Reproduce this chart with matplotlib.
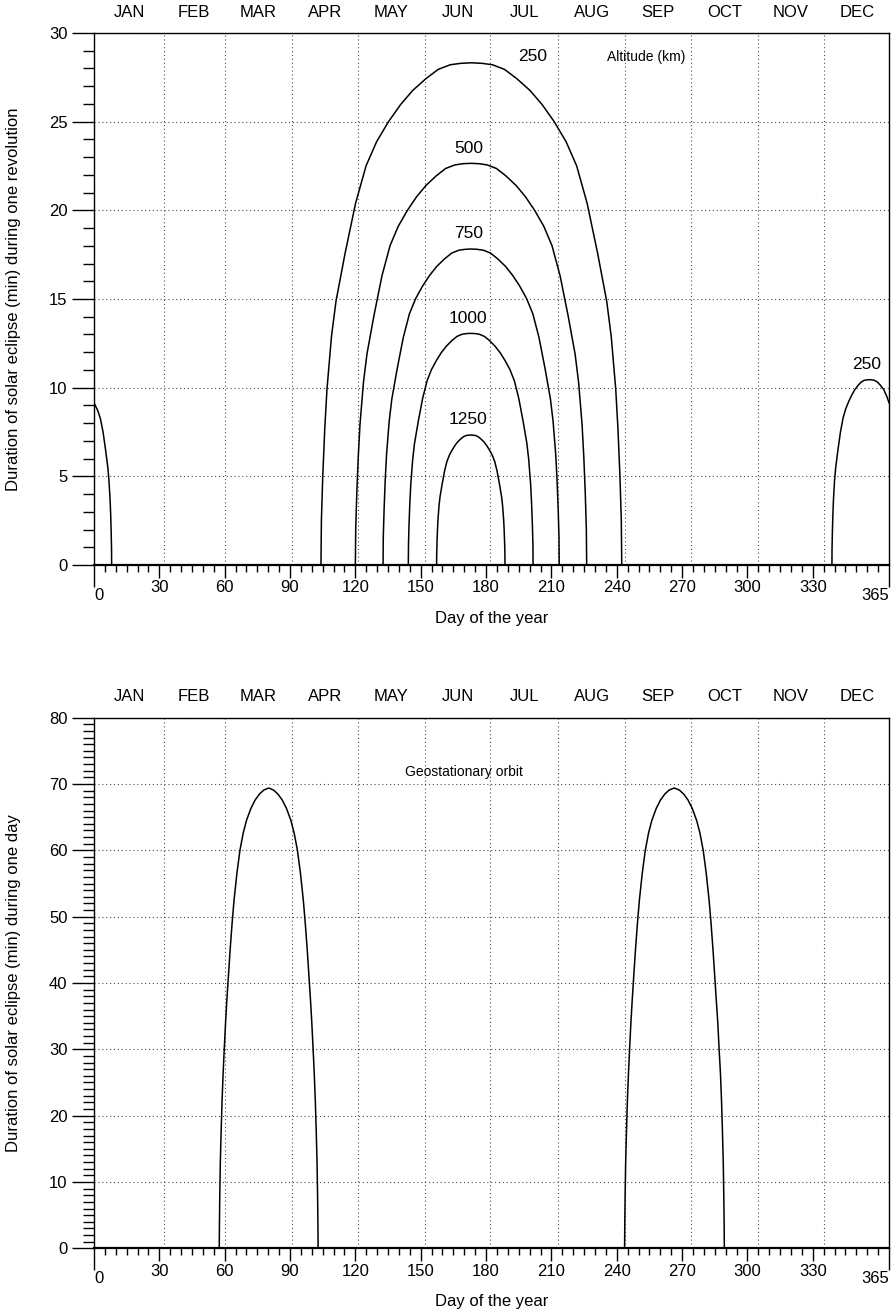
import matplotlib
matplotlib.use("Agg")
from matplotlib import pyplot as plt
from matplotlib.ticker import FixedLocator, MultipleLocator

plt.rcParams["font.family"] = ["Liberation Sans", "DejaVu Sans"]
plt.rcParams["font.size"] = 12

# --- data ------------------------------------------------------------------
month_names = ["JAN", "FEB", "MAR", "APR", "MAY", "JUN",
               "JUL", "AUG", "SEP", "OCT", "NOV", "DEC"]
month_mid = [16.5, 46, 75.5, 106, 136.5, 167, 197.5, 228.5, 259, 289.5, 320, 350.5]
month_starts = [32, 60, 91, 121, 152, 182, 213, 244, 274, 305, 335]
day_ticks = [0, 30, 60, 90, 120, 150, 180, 210, 240, 270, 300, 330, 365]

# low orbits, eclipse per revolution (min)
alt250_day = [104.2, 104.41, 105.03, 105.93, 106.96, 109.03, 111.1, 115.25, 120.08, 124.91,
              129.75, 135.27, 140.8, 146.32, 152.53, 158.06, 163.58, 168.42, 173.25,
              178.08, 182.92, 188.44, 193.97, 200.18, 205.7, 211.23, 216.75, 221.59,
              226.42, 231.25, 235.4, 237.47, 239.54, 240.57, 241.47, 242.09, 242.3]
alt250_min = [0, 2.55, 5.01, 7.65, 9.91, 12.89, 14.87, 17.56, 20.39, 22.51,
              23.87, 25.01, 25.97, 26.76, 27.44, 27.95, 28.21, 28.29, 28.32,
              28.29, 28.21, 27.95, 27.44, 26.76, 25.97, 25.01, 23.87, 22.51,
              20.39, 17.56, 14.87, 12.89, 9.91, 7.65, 5.01, 2.55, 0]

alt500_day = [120.0, 120.16, 120.64, 121.33, 122.12, 123.72, 125.31, 128.5, 132.21, 135.93,
              139.65, 143.89, 148.14, 152.39, 157.17, 161.42, 165.67, 169.38, 173.1,
              176.82, 180.53, 184.78, 189.03, 193.81, 198.06, 202.31, 206.55, 210.27,
              213.99, 217.7, 220.89, 222.48, 224.08, 224.87, 225.56, 226.04, 226.2]
alt500_min = [0, 2.04, 4.01, 6.12, 7.93, 10.31, 11.89, 14.04, 16.31, 18.01,
              19.09, 20.0, 20.77, 21.4, 21.95, 22.36, 22.56, 22.63, 22.65,
              22.63, 22.56, 22.36, 21.95, 21.4, 20.77, 20.0, 19.09, 18.01,
              16.31, 14.04, 11.89, 10.31, 7.93, 6.12, 4.01, 2.04, 0]

alt750_day = [132.7, 132.82, 133.19, 133.71, 134.32, 135.53, 136.74, 139.17, 142.0, 144.83,
              147.67, 150.9, 154.14, 157.37, 161.01, 164.25, 167.49, 170.32, 173.15,
              175.98, 178.81, 182.05, 185.29, 188.93, 192.16, 195.4, 198.63, 201.47,
              204.3, 207.13, 209.56, 210.77, 211.98, 212.59, 213.11, 213.48, 213.6]
alt750_min = [0, 1.60, 3.15, 4.81, 6.24, 8.11, 9.36, 11.05, 12.83, 14.17,
              15.02, 15.74, 16.34, 16.84, 17.27, 17.59, 17.75, 17.80, 17.82,
              17.80, 17.75, 17.59, 17.27, 16.84, 16.34, 15.74, 15.02, 14.17,
              12.83, 11.05, 9.36, 8.11, 6.24, 4.81, 3.15, 1.60, 0]

alt1000_day = [144.3, 144.39, 144.64, 145.02, 145.45, 146.31, 147.16, 148.88, 150.89, 152.9,
               154.9, 157.19, 159.48, 161.78, 164.35, 166.65, 168.94, 170.94, 172.95,
               174.96, 176.96, 179.25, 181.55, 184.12, 186.42, 188.71, 191.0, 193.01,
               195.01, 197.02, 198.74, 199.59, 200.45, 200.88, 201.26, 201.51, 201.6]
alt1000_min = [0, 1.18, 2.31, 3.53, 4.57, 5.94, 6.86, 8.10, 9.40, 10.38,
               11.01, 11.53, 11.98, 12.34, 12.66, 12.89, 13.01, 13.05, 13.06,
               13.05, 13.01, 12.89, 12.66, 12.34, 11.98, 11.53, 11.01, 10.38,
               9.40, 8.10, 6.86, 5.94, 4.57, 3.53, 2.31, 1.18, 0]

alt1250_day = [157.3, 157.35, 157.49, 157.69, 157.93, 158.4, 158.87, 159.81, 160.91, 162.01,
               163.11, 164.36, 165.62, 166.88, 168.29, 169.55, 170.8, 171.9, 173.0,
               174.1, 175.2, 176.45, 177.71, 179.12, 180.38, 181.64, 182.89, 183.99,
               185.09, 186.19, 187.13, 187.6, 188.07, 188.31, 188.51, 188.65, 188.7]
alt1250_min = [0, 0.66, 1.30, 1.98, 2.57, 3.34, 3.85, 4.54, 5.28, 5.83,
               6.18, 6.47, 6.72, 6.93, 7.10, 7.23, 7.30, 7.32, 7.33,
               7.32, 7.30, 7.23, 7.10, 6.93, 6.72, 6.47, 6.18, 5.83,
               5.28, 4.54, 3.85, 3.34, 2.57, 1.98, 1.30, 0.66, 0]

# 250 km, winter season (wraps around the new year)
alt250_dec_day = [338.8, 338.85, 339.0, 339.23, 339.49, 339.99, 340.52, 341.54, 342.74,
                  343.95, 345.15, 346.52, 347.89, 349.26, 350.8, 352.18, 353.55, 354.75,
                  355.95, 357.15, 358.35, 359.72, 361.1, 362.64, 364.01, 365.0]
alt250_dec_min = [0, 0.94, 1.85, 2.82, 3.66, 4.75, 5.49, 6.48, 7.52,
                  8.31, 8.81, 9.23, 9.58, 9.88, 10.13, 10.31, 10.41, 10.44,
                  10.45, 10.44, 10.41, 10.31, 10.13, 9.88, 9.5, 9.15]
alt250_jan_day = [0, 0.38, 1.75, 2.95, 4.16, 5.36, 6.39, 6.9, 7.41, 7.67, 7.89, 8.05, 8.1]
alt250_jan_min = [9.15, 9.05, 8.7, 8.25, 7.5, 6.45, 5.45, 4.7, 3.62, 2.8, 1.84, 0.94, 0]

# geostationary orbit, eclipse per day (min)
geo_spring_day = [57.5, 57.6, 57.75, 58.0, 58.4, 58.8, 59.3, 59.8, 60.4, 61.0, 61.7, 62.5,
                  63.4, 64.3, 65.6, 67.0, 68.5, 70.0, 72.0, 74.0, 76.0, 78.0, 80.2,
                  82.4, 84.4, 86.4, 88.4, 90.4, 91.9, 93.4, 94.8, 96.1, 97.0, 97.9, 98.7,
                  99.4, 100.0, 100.6, 101.1, 101.6, 102.0, 102.4, 102.65, 102.8, 102.9]
geo_autumn_day = [243.6, 243.7, 243.85, 244.1, 244.5, 244.9, 245.4, 245.9, 246.5, 247.1,
                  247.8, 248.6, 249.5, 250.4, 251.7, 253.1, 254.6, 256.1, 258.1, 260.1,
                  262.1, 264.1, 266.4, 268.7, 270.7, 272.7, 274.7, 276.7, 278.2, 279.7,
                  281.1, 282.4, 283.3, 284.2, 285.0, 285.7, 286.4, 287.0, 287.6, 288.1,
                  288.5, 288.9, 289.15, 289.3, 289.4]
geo_min = [0, 4, 8, 13, 18, 22.3, 26.5, 30, 34, 37.4, 41, 45, 49, 52.5, 56.5, 60,
           62.6, 64.5, 66.3, 67.6, 68.5, 69.1, 69.4, 69.1, 68.5, 67.6, 66.3, 64.5,
           62.6, 60, 56.5, 52.5, 49, 45, 41, 37.4, 34, 30, 26.5, 22.3, 18, 13, 8, 4, 0]

DOTS = (0, (1, 2.5))


def style_axes(ax, ymax, ystep, ylabel):
    ax.set_xlim(0, 365)
    ax.set_ylim(0, ymax)
    ax.xaxis.set_major_locator(FixedLocator(day_ticks))
    ax.xaxis.set_minor_locator(MultipleLocator(5))
    ax.yaxis.set_major_locator(MultipleLocator(ystep))
    ax.yaxis.set_minor_locator(MultipleLocator(1))
    ax.tick_params(axis="x", which="major", direction="out", length=9, width=1, pad=2)
    ax.tick_params(axis="x", which="minor", direction="out", length=5, width=1)
    ax.tick_params(axis="y", which="major", direction="out", length=16, width=1, pad=3)
    ax.tick_params(axis="y", which="minor", direction="out", length=8, width=1)

    # first and last day ticks are longer, labels pushed down and aligned inwards
    ticks = ax.xaxis.get_major_ticks()
    for tick, ha in ((ticks[0], "left"), (ticks[-1], "right")):
        tick.set_pad(7.5)
        tick.tick1line.set_markersize(16)
        tick.label1.set_horizontalalignment(ha)

    for sp in ax.spines.values():
        sp.set_linewidth(1.0)
    ax.spines["bottom"].set_linewidth(1.6)

    ax.grid(axis="y", which="major", linestyle=DOTS, linewidth=0.8, color="0.3")
    for d in month_starts:
        ax.axvline(d, linestyle=DOTS, linewidth=0.8, color="0.3", zorder=0.5)

    for name, d in zip(month_names, month_mid):
        ax.annotate(name, xy=(d, 1), xycoords=("data", "axes fraction"),
                    xytext=(0, 15), textcoords="offset points",
                    ha="center", va="center")

    ax.set_xlabel("Day of the year", va="center")
    ax.xaxis.set_label_coords(0.5, -53 / 532)
    ax.set_ylabel(ylabel, va="center")
    ax.yaxis.set_label_coords(-80 / 795, 0.5)


def main():
    fig = plt.figure(figsize=(8.95, 13.15), dpi=100)
    ax_top = fig.add_axes([94 / 895, 1 - 565 / 1315, 795 / 895, 532 / 1315])
    ax_bot = fig.add_axes([94 / 895, 1 - 1248.3 / 1315, 795 / 895, 530.6 / 1315])

    style_axes(ax_top, 30, 5, "Duration of solar eclipse (min) during one revolution")
    style_axes(ax_bot, 80, 10, "Duration of solar eclipse (min) during one day")

    line = dict(color="black", linewidth=1.1, solid_joinstyle="round")
    for d, v in ((alt250_day, alt250_min), (alt500_day, alt500_min),
                 (alt750_day, alt750_min), (alt1000_day, alt1000_min),
                 (alt1250_day, alt1250_min), (alt250_dec_day, alt250_dec_min),
                 (alt250_jan_day, alt250_jan_min)):
        ax_top.plot(d, v, **line)

    ax_top.text(201.3, 28.7, "250", ha="center", va="center", fontsize=12.5)
    ax_top.text(172, 23.46, "500", ha="center", va="center", fontsize=12.5)
    ax_top.text(172, 18.69, "750", ha="center", va="center", fontsize=12.5)
    ax_top.text(171.9, 13.88, "1000", ha="center", va="center", fontsize=12.5)
    ax_top.text(171.9, 8.2, "1250", ha="center", va="center", fontsize=12.5)
    ax_top.text(354.5, 11.28, "250", ha="center", va="center", fontsize=12.5)
    ax_top.text(235.5, 28.65, "Altitude (km)", ha="left", va="center", fontsize=10)

    ax_bot.plot(geo_spring_day, geo_min, **line)
    ax_bot.plot(geo_autumn_day, geo_min, **line)
    ax_bot.text(169.9, 71.8, "Geostationary orbit", ha="center", va="center", fontsize=10)

    fig.savefig("out.png", dpi=100)


if __name__ == "__main__":
    main()
